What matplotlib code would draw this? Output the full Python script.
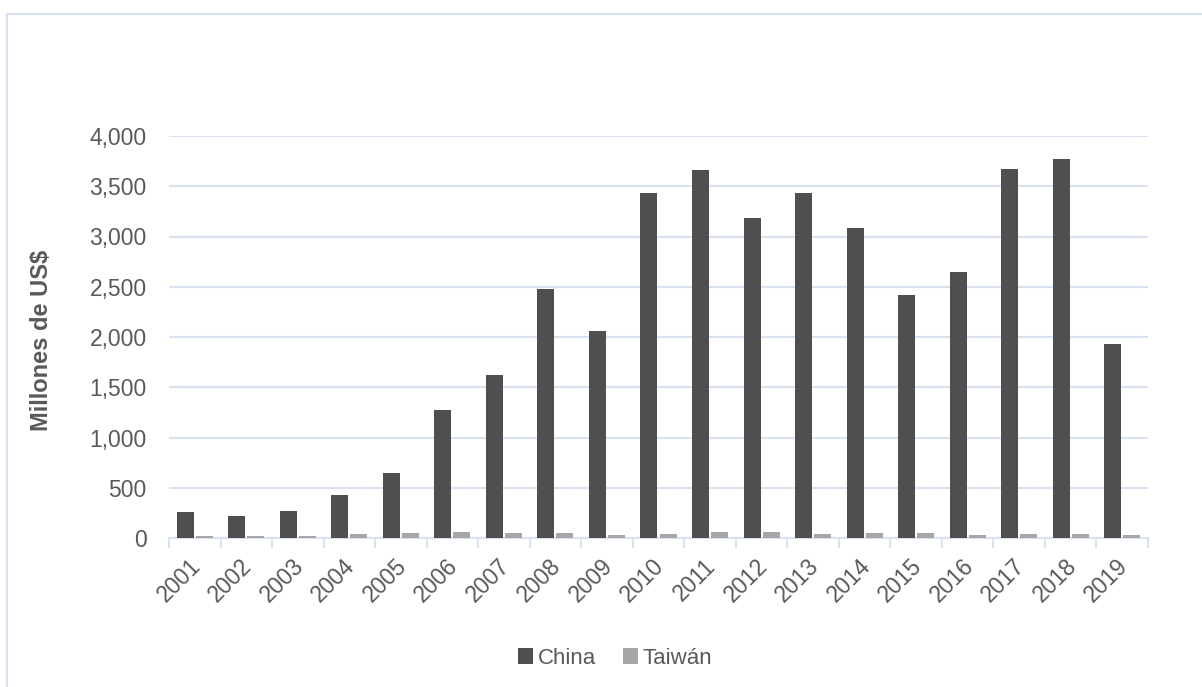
import matplotlib
matplotlib.use("Agg")
import matplotlib.pyplot as plt
import matplotlib.transforms as mtransforms
import numpy as np
from matplotlib.patches import Rectangle
from matplotlib.ticker import FuncFormatter, FixedLocator

plt.rcParams['font.family'] = ['Liberation Sans', 'DejaVu Sans']

years = [str(y) for y in range(2001, 2020)]
china = [260, 220, 270, 430, 650, 1275, 1620, 2480, 2060, 3430,
         3665, 3185, 3430, 3080, 2420, 2650, 3670, 3770, 1930]
taiwan = [15, 15, 15, 40, 50, 60, 50, 50, 30, 40,
          60, 60, 40, 50, 50, 30, 40, 40, 30]

grid_col = '#d9e2f3'
text_col = '#595959'

fig = plt.figure(figsize=(12.02, 6.87), dpi=100)
fig.patches.append(Rectangle((7 / 1202, -0.05), 1.2, 1 - 14 / 687 + 0.05,
                             transform=fig.transFigure, fill=False,
                             edgecolor=grid_col, linewidth=1.5))

ax = fig.add_axes([169 / 1202, 1 - 538 / 687, (1148 - 169) / 1202, (538 - 136) / 687])

x = np.arange(len(years))
w = 0.33
ax.bar(x - w / 2 - 0.02, china, width=w, color='#4f4f4f', label='China', zorder=3)
ax.bar(x + w / 2 + 0.02, taiwan, width=w, color='#a6a6a6', label='Taiwán', zorder=3)

ax.set_xlim(-0.5, len(years) - 0.5)
ax.set_ylim(0, 4000)
ax.set_yticks(np.arange(0, 4001, 500))
ax.yaxis.set_major_formatter(FuncFormatter(lambda v, p: f'{int(v):,}'))
ax.grid(axis='y', color=grid_col, linewidth=1.5, zorder=0)
ax.set_axisbelow(True)

for s in ['top', 'right', 'left']:
    ax.spines[s].set_visible(False)
ax.spines['bottom'].set_color(grid_col)
ax.spines['bottom'].set_linewidth(1.5)

ax.set_xticks(x)
ax.set_xticklabels(years, rotation=45, ha='right', rotation_mode='anchor')
ax.xaxis.set_minor_locator(FixedLocator(np.arange(-0.5, len(years), 1.0)))
ax.tick_params(axis='x', which='major', length=0, pad=12, labelsize=16.5, labelcolor=text_col)
ax.tick_params(axis='x', which='minor', length=7, width=1.5, color=grid_col)
ax.tick_params(axis='y', length=0, pad=16, labelsize=16.5, labelcolor=text_col)

# nudge the rotated year labels slightly left
shift = mtransforms.ScaledTranslation(-6 / 100, 0, fig.dpi_scale_trans)
for lbl in ax.get_xticklabels():
    lbl.set_transform(lbl.get_transform() + shift)

fig.text(42 / 1202, 1 - 340 / 687, 'Millones de US$', rotation=90, ha='center', va='center',
         fontsize=17, fontweight='bold', color=text_col)

leg = fig.legend(loc='center', bbox_to_anchor=(615 / 1202, 1 - 658 / 687), ncol=2,
                 frameon=False, fontsize=16, handlelength=0.7, handleheight=0.7,
                 handletextpad=0.2, columnspacing=1.2, labelcolor=text_col)

fig.savefig('out.png', dpi=100, facecolor='white')
